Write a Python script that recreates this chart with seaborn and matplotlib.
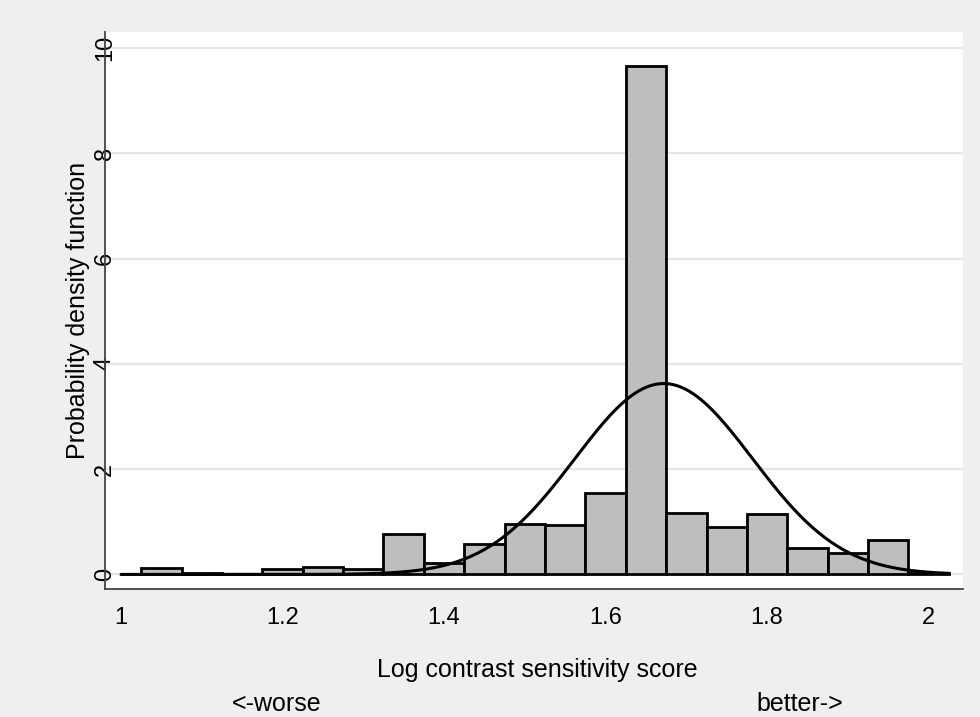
import numpy as np
import pandas as pd
import matplotlib
matplotlib.use("Agg")
import matplotlib.pyplot as plt
import seaborn as sns

# histogram bins (width 0.05) and their densities
bin_left = [1.025, 1.075, 1.125, 1.175, 1.225, 1.275, 1.325, 1.375, 1.425, 1.475,
            1.525, 1.575, 1.625, 1.675, 1.725, 1.775, 1.825, 1.875, 1.925, 1.975]
density = [0.12, 0.02, 0.0, 0.10, 0.14, 0.10, 0.77, 0.21, 0.58, 0.95,
           0.93, 1.54, 9.66, 1.17, 0.91, 1.14, 0.51, 0.41, 0.65, 0.03]
bin_width = 0.05

# fitted normal curve
norm_mean = 1.672
norm_sd = 0.11

x_ticks = [1, 1.2, 1.4, 1.6, 1.8, 2]
x_tick_labels = ["1", "1.2", "1.4", "1.6", "1.8", "2"]
y_ticks = [0, 2, 4, 6, 8, 10]

sns.set_style("white")
plt.rcParams["font.family"] = ["Liberation Sans", "DejaVu Sans"]
plt.rcParams["text.color"] = "black"
plt.rcParams["axes.labelcolor"] = "black"
plt.rcParams["xtick.color"] = "black"
plt.rcParams["ytick.color"] = "black"

df = pd.DataFrame({"center": np.array(bin_left) + bin_width / 2, "density": density})
edges = list(bin_left) + [bin_left[-1] + bin_width]

fig = plt.figure(figsize=(9.8, 7.17), dpi=100, facecolor="#efefef")
ax = fig.add_axes([0.107, 0.179, 0.876, 0.776])
ax.set_facecolor("white")

# grid first so bars cover it
for yt in y_ticks:
    ax.axhline(yt, color="#e6e6e6", lw=1.6, zorder=0)

sns.histplot(data=df, x="center", weights="density", bins=edges, stat="count",
             color="#bebebe", edgecolor="black", linewidth=2.0, alpha=1, ax=ax, zorder=2)

xs = np.linspace(1.0, 2.025, 400)
curve = pd.DataFrame({"x": xs,
                      "y": np.exp(-0.5 * ((xs - norm_mean) / norm_sd) ** 2) / (norm_sd * np.sqrt(2 * np.pi))})
sns.lineplot(data=curve, x="x", y="y", color="black", lw=2.2, ax=ax, zorder=3)

ax.set_xlim(0.98, 2.043)
ax.set_ylim(-0.27, 10.3)
ax.set_xticks(x_ticks)
ax.set_xticklabels(x_tick_labels, fontsize=17)
ax.set_yticks(y_ticks)
ax.set_yticklabels([str(v) for v in y_ticks], fontsize=17, rotation=90, va="center", ha="center")
ax.tick_params(axis="x", length=7, width=1.3, color="#555555", pad=6)
# y labels sit centred on the axis line, the tick runs through them
ax.tick_params(axis="y", direction="inout", length=12, width=1.3, color="#333333", pad=-6)

for s in ["top", "right"]:
    ax.spines[s].set_visible(False)
for s in ["left", "bottom"]:
    ax.spines[s].set_color("#444444")
    ax.spines[s].set_linewidth(1.3)

ax.set_ylabel("")
ax.set_xlabel("")
fig.text(78 / 980, 1 - 310 / 717, "Probability density function", fontsize=18,
         rotation=90, ha="center", va="center")
fig.text(537 / 980, 1 - 670 / 717, "Log contrast sensitivity score", fontsize=18,
         ha="center", va="center")
fig.text(277 / 980, 1 - 704 / 717, "<-worse", fontsize=18, ha="center", va="center")
fig.text(800 / 980, 1 - 704 / 717, "better->", fontsize=18, ha="center", va="center")

fig.savefig("out.png", dpi=100, facecolor=fig.get_facecolor())
